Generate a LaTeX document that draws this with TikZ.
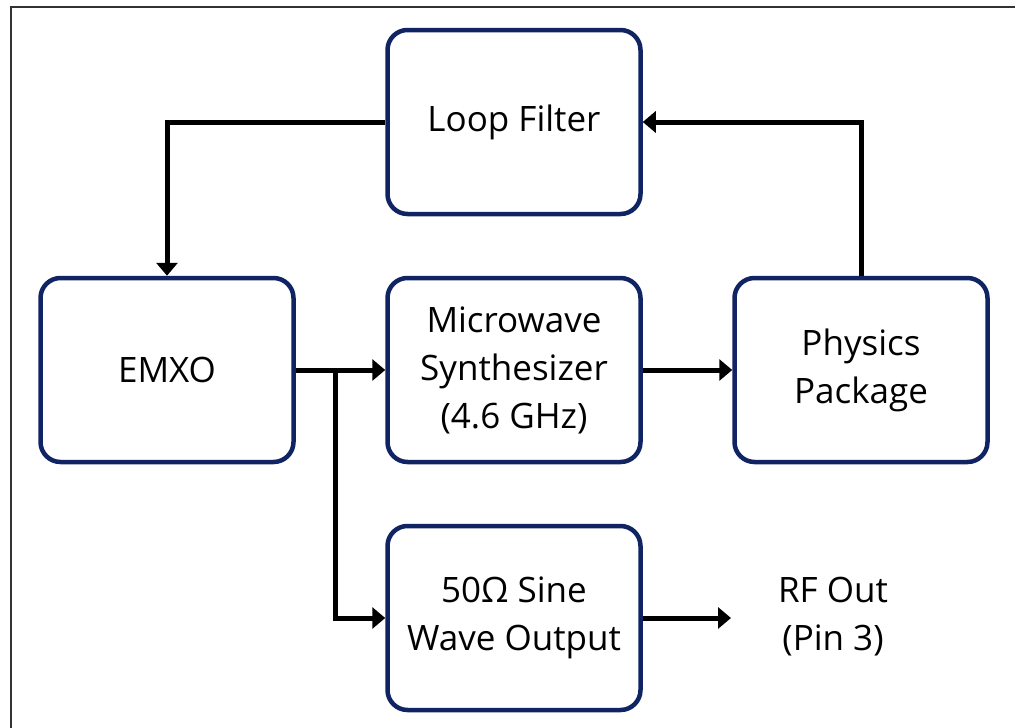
\documentclass[tikz,border=0pt]{standalone}
\usepackage{fontspec}
\setmainfont{Open Sans}
\usetikzlibrary{arrows.meta}
\definecolor{boxnavy}{RGB}{16,36,100}
\definecolor{framegray}{RGB}{50,50,50}
\tikzset{
  block/.style={draw=boxnavy, line width=4.5pt, rounded corners=20pt, fill=white,
    minimum width=253pt, minimum height=184pt, align=center, inner sep=0pt,
    font=\fontsize{35pt}{48pt}\selectfont},
  label/.style={align=center, font=\fontsize{35pt}{48pt}\selectfont},
  link/.style={line width=5pt, line join=miter,
    -{Triangle[length=13pt,width=21pt]}}
}
\begin{document}
\begin{tikzpicture}[x=1pt,y=1pt]
  \useasboundingbox (0,0) rectangle (1015,-728);
  \fill[white] (0,0) rectangle (1015,-728);
  % outer frame (left and top edges)
  \draw[framegray, line width=2pt] (11,-728) -- (11,-7) -- (1015,-7);

  \node[block] (lf)   at (514,-122) {Loop Filter};
  \node[block] (emxo) at (167,-370) {EMXO};
  \node[block] (mw)   at (514,-370) {Microwave\\Synthesizer\\(4.6 GHz)};
  \node[block] (pp)   at (861,-370) {Physics\\Package};
  \node[block] (sine) at (514,-618) {50Ω Sine\\Wave Output};
  \node[label] (rf)   at (833,-617) {RF Out\\(Pin 3)};

  \coordinate (split) at (335,-370);
  \coordinate (rfend) at (731,-618);

  % feedback loop
  \draw[link] (lf.west) -| (emxo.north);
  \draw[link] (pp.north) |- (lf.east);
  % forward path
  \draw[link] (emxo.east) -- (mw.west);
  \draw[link] (split) |- (sine.west);
  \draw[link] (mw.east) -- (pp.west);
  \draw[link] (sine.east) -- (rfend);
\end{tikzpicture}
\end{document}
